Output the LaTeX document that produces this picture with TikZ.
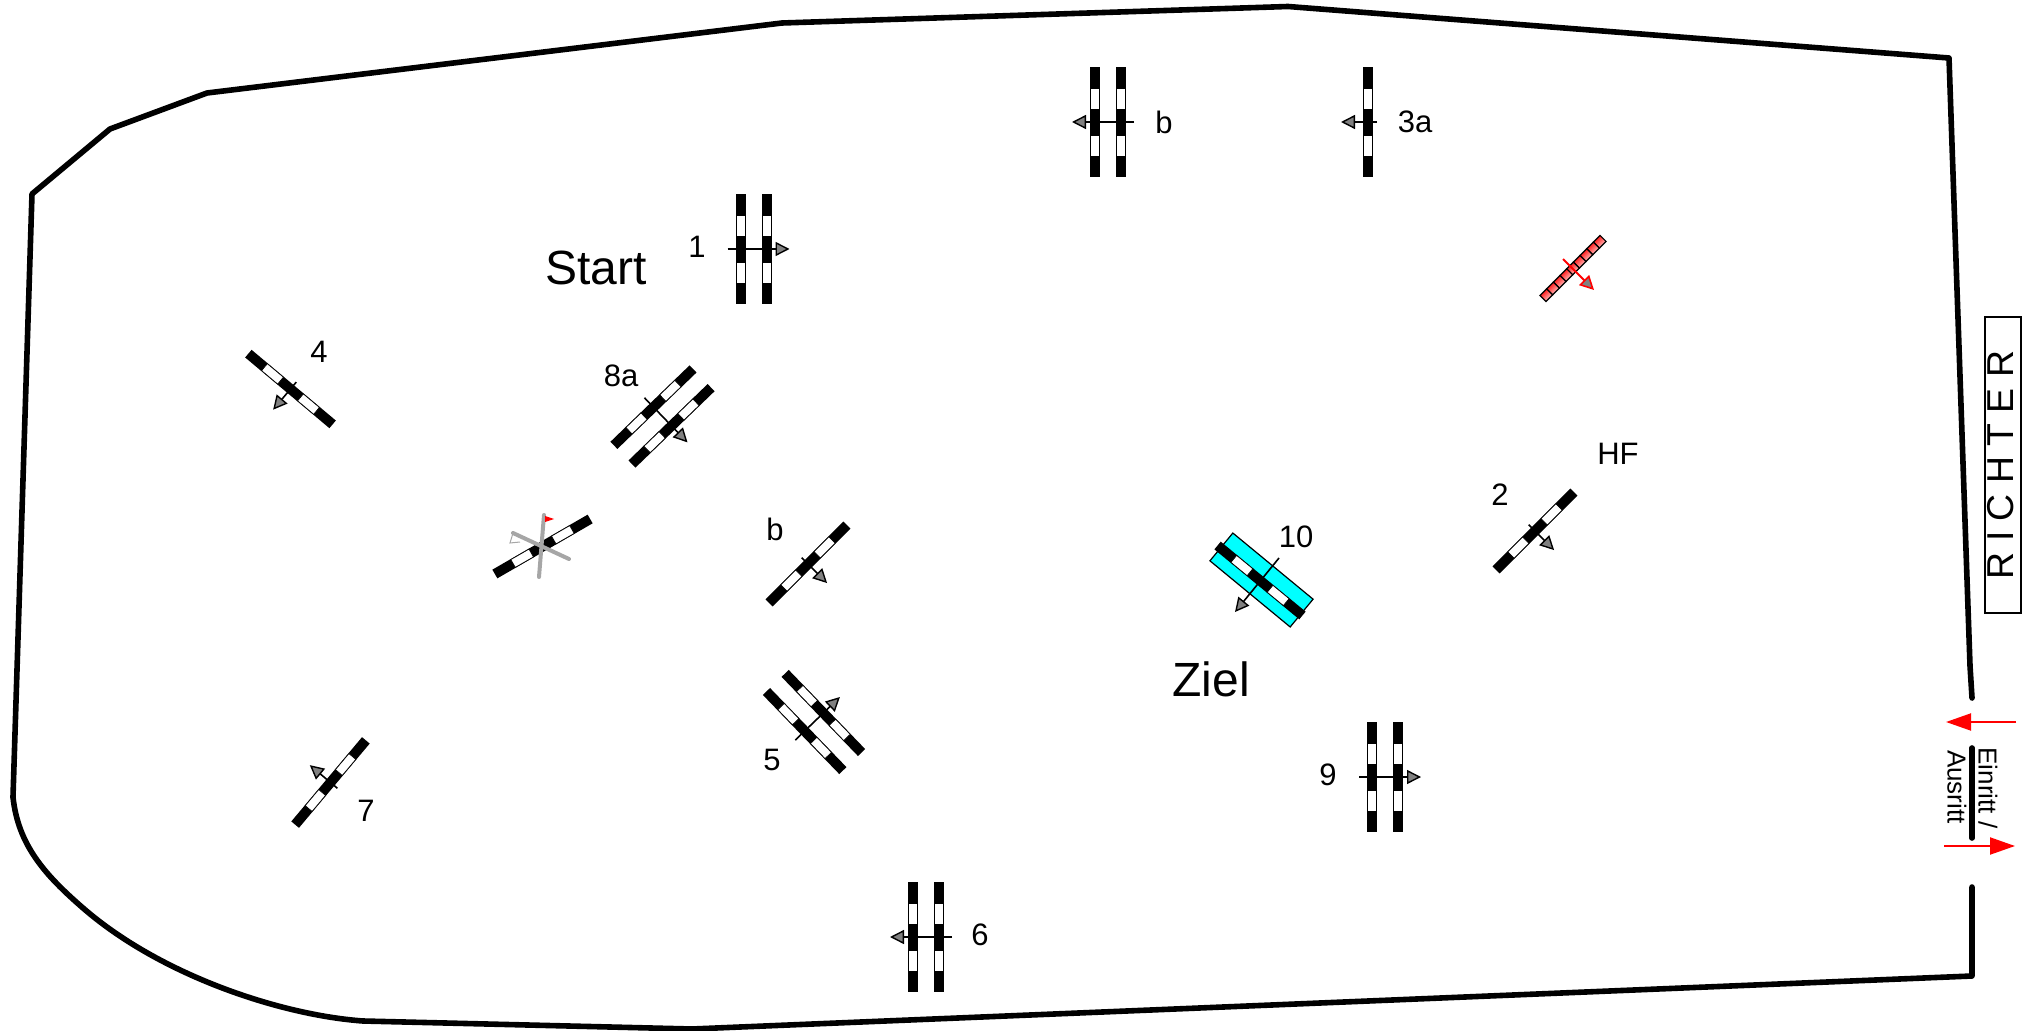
\documentclass[tikz,border=0pt]{standalone}
\usepackage{fontspec}
\setmainfont{Liberation Sans}
\usepackage{tikz}
\usetikzlibrary{arrows.meta}
\usepackage{xcolor}
\definecolor{boxcyan}{RGB}{0,255,255}
\newcommand{\railat}[1]{
  \begin{scope}[shift={(#1,0)}]
    \fill (-5,-55) rectangle (5,55);
    \filldraw[window] (-4.5,-34) rectangle (4.5,-13);
    \filldraw[window] (-4.5,13) rectangle (4.5,34);
  \end{scope}
}

\begin{document}
\begin{tikzpicture}[x=0.5pt, y=-0.5pt,
  wall/.style={line width=2.8pt, line cap=round, line join=round},
  lab/.style={font=\fontsize{15.5}{18}\selectfont, inner sep=0pt},
  biglab/.style={font=\fontsize{24}{28}\selectfont, inner sep=0pt},
  smalllab/.style={font=\fontsize{13}{15}\selectfont, inner sep=0pt, rotate=-90},
  window/.style={fill=white, draw=black, line width=0.35pt},
  jumparrow/.style={line width=0.8pt, -{Triangle[length=7pt, width=7pt, fill=gray, line width=0.7pt]}},
  redarrow/.style={red, line width=1pt, -{Triangle[length=12.5pt, width=8.5pt, fill=red]}},
  pole/.style={line width=2pt, gray!70, line cap=round},
  rail/.pic={
    \railat{0}
  },
  single/.pic={
    \railat{0}
    \draw[jumparrow] (-9,0) -- (27,0);
  },
  oxer/.pic={
    \railat{-13}
    \railat{13}
    \draw[jumparrow] (-26,0) -- (36,0);
  }]
  \useasboundingbox (0,0) rectangle (2028,1031);

  \draw[wall] (13,797) -- (32,194) -- (110,129) -- (207,93) -- (782,23)
    -- (1288,6.5) -- (1949,58) -- (1970,666) -- (1972,698);
  \draw[wall] (1972,887) -- (1972,976) -- (692,1029) -- (363,1021)
    .. controls (280,1015) and (160,975) .. (83,908)
    .. controls (45,875) and (18,845) .. (13,797);
  \draw[wall] (1972,748) -- (1972,838);

  \pic (jump1) at (753.5,249) {oxer};
  \pic[rotate=180] (jumpb) at (1108,122) {oxer};
  \pic[rotate=180] (jump3a) at (1368,122) {single};
  \pic[rotate=230] (jump4) at (290.5,389) {single};
  \pic[rotate=-46] (jump8a) at (662.5,416.5) {oxer};
  \pic[rotate=-60] (jump8b) at (542.5,546.5) {rail};
  \pic[rotate=-45] (jumpc) at (808,564) {single};
  \pic[rotate=-45] (jump2) at (1535,531) {single};
  \pic[rotate=44] (jump5) at (814,722) {oxer};
  \pic[rotate=140] (jump7) at (330.5,782.5) {single};
  \pic[rotate=180] (jump6) at (926,937) {oxer};
  \pic (jump9) at (1385,777) {oxer};

  \node[draw, fill=boxcyan, line width=0.6pt, minimum width=52pt, minimum height=18pt,
    inner sep=0pt, rotate=-39.5] (box10) at (1261.5,580) {};
  \pic[rotate=230.5] (jump10) at (1260,580.5) {rail};
  \draw[jumparrow] (1279,558) -- (1235,612);

  \draw[pole] (539,577) -- (544,515);
  \draw[pole] (513,533) -- (569,559);
  \fill[red] (545,516) -- (554,519) -- (545,522) -- cycle;
  \draw[gray!70, line width=0.5pt] (513,533) -- (510,543) -- (520,542);

  \begin{scope}[shift={(1573,268.5)}, rotate=-45]
    \foreach \c in {0,...,8}
      \draw[black, line width=0.6pt, top color=red, bottom color=red!15, shading angle=45]
        (-4.25,-42.5+\c*9.44) rectangle (4.25,-33.06+\c*9.44);
  \end{scope}
  \draw[red, line width=1pt, -{Triangle[length=7pt, width=7pt, fill=gray, line width=0.8pt]}] (1563,259) -- (1594,290);

  \node[lab] (lab1) at (697,247) {1};
  \node[lab] (labb) at (1164,122) {b};
  \node[lab] (lab3a) at (1415,122) {3a};
  \node[lab] (lab4) at (319,352) {4};
  \node[lab] (lab8a) at (621,376) {8a};
  \node[lab] (labc) at (775,529) {b};
  \node[lab] (lab2) at (1500,495) {2};
  \node[lab] (labhf) at (1618,454) {HF};
  \node[lab] (lab10) at (1296,537) {10};
  \node[lab] (lab5) at (772,760) {5};
  \node[lab] (lab7) at (366,811) {7};
  \node[lab] (lab6) at (980,935) {6};
  \node[lab] (lab9) at (1328,775) {9};
  \node[biglab] (start) at (596,268) {Start};
  \node[biglab] (ziel) at (1211,679) {Ziel};

  \node[draw, line width=0.6pt, minimum width=148pt, minimum height=18pt, inner sep=0pt,
    text depth=2.5pt, rotate=90, font=\fontsize{18.7}{20}\selectfont] (richter) at (2003,465) {R I C H T E R};
  \node[smalllab] (einritt) at (1988,788) {Einritt /};
  \node[smalllab] (ausritt) at (1957,787) {Ausritt};
  \draw[redarrow] (2016,722) -- (1946,722);
  \draw[redarrow] (1944,846) -- (2015,846);
\end{tikzpicture}
\end{document}
